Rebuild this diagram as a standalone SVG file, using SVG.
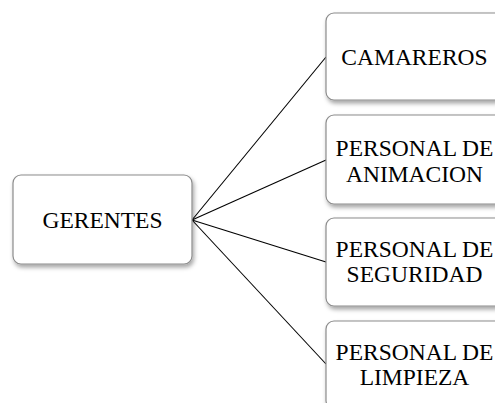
<svg xmlns="http://www.w3.org/2000/svg" width="495" height="403" viewBox="0 0 495 403">
<defs>
<filter id="sh" x="-10%" y="-10%" width="130%" height="140%">
<feDropShadow dx="1.5" dy="3" stdDeviation="2" flood-color="#000" flood-opacity="0.35"/>
</filter>
</defs>
<style>
.box{fill:#fff;stroke:#8c8c8c;stroke-width:1.2;filter:url(#sh)}
.t{font-family:"Liberation Serif","Times New Roman",serif;font-size:23.5px;fill:#000;text-anchor:middle}
.c{stroke:#000;stroke-width:1.1;fill:none}
</style>
<rect width="495" height="403" fill="#fff"/>
<g id="connectors">
<line class="c" x1="192" y1="220" x2="326" y2="57"/>
<line class="c" x1="192" y1="220" x2="326" y2="160"/>
<line class="c" x1="192" y1="220" x2="326" y2="262"/>
<line class="c" x1="192" y1="220" x2="326" y2="364"/>
</g>
<g id="gerentes">
<rect class="box" x="13" y="175" width="179" height="89" rx="8"/>
<text class="t" x="102.5" y="228">GERENTES</text>
</g>
<g id="camareros">
<rect class="box" x="326" y="13" width="177" height="87" rx="8"/>
<text class="t" x="414.5" y="65">CAMAREROS</text>
</g>
<g id="animacion">
<rect class="box" x="326" y="115" width="177" height="89" rx="8"/>
<text class="t" x="414.5" y="156">PERSONAL DE</text>
<text class="t" x="414.5" y="182">ANIMACION</text>
</g>
<g id="seguridad">
<rect class="box" x="326" y="218" width="177" height="88" rx="8"/>
<text class="t" x="414.5" y="257">PERSONAL DE</text>
<text class="t" x="414.5" y="282">SEGURIDAD</text>
</g>
<g id="limpieza">
<rect class="box" x="326" y="321" width="177" height="88" rx="8"/>
<text class="t" x="414.5" y="360">PERSONAL DE</text>
<text class="t" x="414.5" y="385">LIMPIEZA</text>
</g>
</svg>
